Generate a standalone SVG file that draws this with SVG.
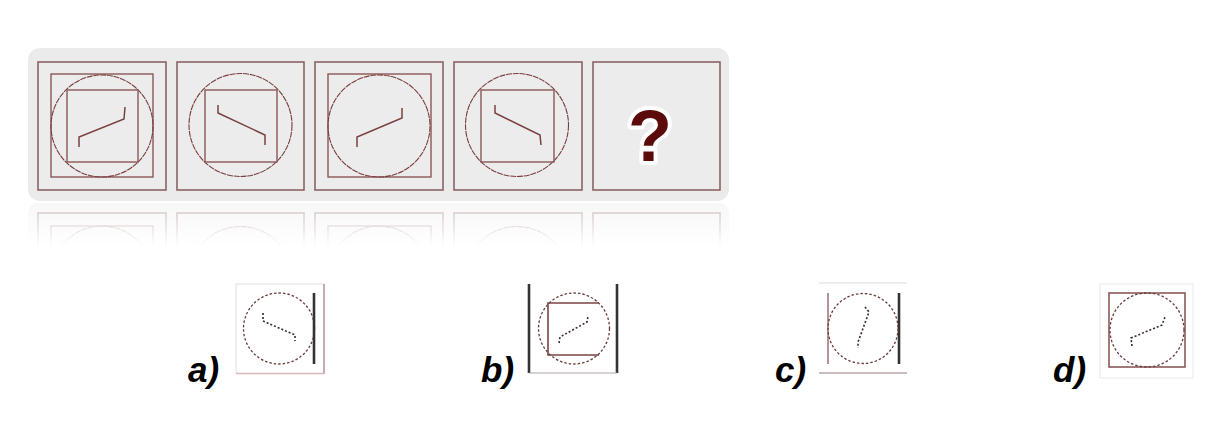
<svg xmlns="http://www.w3.org/2000/svg" width="1208" height="439" viewBox="0 0 1208 439">
<style>
.cell{fill:#ececec;stroke:#8a6464;stroke-width:1.6}
.sq{fill:none;stroke:#8a5858;stroke-width:1.4}
.cir{fill:none;stroke:#7a3c3c;stroke-width:1.1;stroke-dasharray:6 0.8}
.z{fill:none;stroke:#7a4040;stroke-width:1.5}
.dc{fill:none;stroke:#6a3a3a;stroke-width:1.3;stroke-dasharray:2.5 2}
.dz{fill:none;stroke:#3a2a2a;stroke-width:1.6;stroke-dasharray:2 2}
.thick{stroke:#333;stroke-width:2.6}
.lbl{font-family:"Liberation Sans",Arial,sans-serif;font-weight:bold;font-style:italic;font-size:35px;fill:#000}
</style>
<defs>
<linearGradient id="fade" x1="0" y1="0" x2="0" y2="1">
<stop offset="0" stop-color="#fff" stop-opacity="0.4"/>
<stop offset="1" stop-color="#fff" stop-opacity="0"/>
</linearGradient>
<mask id="rm" maskUnits="userSpaceOnUse" x="0" y="200" width="1208" height="60">
<rect x="0" y="203" width="1208" height="44" fill="url(#fade)"/>
</mask>
<g id="row">
<rect x="28" y="48" width="701" height="153" rx="12" fill="#ebebeb"/>
<rect class="cell" x="38" y="62" width="128" height="128"/>
<rect class="cell" x="177" y="62" width="127" height="128"/>
<rect class="cell" x="315" y="62" width="128" height="128"/>
<rect class="cell" x="454" y="62" width="128" height="128"/>
<rect class="cell" x="593" y="62" width="127" height="128"/>
<rect class="sq" x="51" y="74" width="102" height="103"/>
<circle class="cir" cx="102" cy="126" r="51"/>
<rect class="sq" x="328" y="74" width="103" height="103"/>
<circle class="cir" cx="379" cy="126" r="51"/>
<circle class="cir" cx="240.5" cy="125" r="51.5"/>
<circle class="cir" cx="517" cy="125" r="51.5"/>
</g>
</defs>
<rect width="1208" height="439" fill="#fff"/>
<g id="reflection" mask="url(#rm)">
<use href="#row" transform="translate(0,403) scale(1,-1)"/>
</g>
<g id="sequence">
<use href="#row"/>
<g id="cell1">
<rect class="sq" x="67" y="90" width="71" height="72"/>
<polyline class="z" points="79,147 79,137 124,119 125,107"/>
</g>
<g id="cell2">
<rect class="sq" x="205" y="90" width="72" height="72"/>
<polyline class="z" points="218,105 218,113 265,135 265,145"/>
</g>
<g id="cell3">
<polyline class="z" points="357,147 357,137 402,118 402,108"/>
</g>
<g id="cell4">
<rect class="sq" x="481" y="90" width="73" height="72"/>
<polyline class="z" points="495,105 495,113 540,135 541,145"/>
</g>
<g id="cell5">
<text x="650" y="161" text-anchor="middle" font-family="'Liberation Sans',Arial,sans-serif" font-weight="bold" font-size="72" fill="#5c0b0b" stroke="#fff" stroke-width="8" stroke-linejoin="round" paint-order="stroke">?</text>
</g>
</g>
<g id="optA">
<polyline points="236,373 236,284 324,284" fill="none" stroke="#e2dede" stroke-width="1"/>
<line x1="324" y1="284" x2="324" y2="374" stroke="#a88080" stroke-width="1.3"/>
<line x1="236" y1="373.5" x2="324" y2="373.5" stroke="#d8b8b8" stroke-width="1.3"/>
<circle class="dc" cx="279" cy="328.5" r="35.5"/>
<line class="thick" x1="314" y1="293" x2="314" y2="364"/>
<polyline class="dz" points="263,313 263,321 295,335 295,341"/>
<text class="lbl" x="188" y="382">a)</text>
</g>
<g id="optB">
<line class="thick" x1="529" y1="284" x2="529" y2="373"/>
<line class="thick" x1="617" y1="284" x2="617" y2="373"/>
<line x1="529" y1="373" x2="617" y2="373" stroke="#b0a8a8" stroke-width="1.2"/>
<circle class="dc" cx="574" cy="328.5" r="35.5"/>
<polyline points="599,303 548,303 548,355 599,355" fill="none" stroke="#7a4444" stroke-width="1.6"/>
<polyline class="dz" points="559,343 560,337 587,322 588,316"/>
<text class="lbl" x="481" y="382">b)</text>
</g>
<g id="optC">
<line x1="819" y1="283" x2="907" y2="283" stroke="#e0dada" stroke-width="1"/>
<line x1="819" y1="373" x2="907" y2="373" stroke="#b8a8a8" stroke-width="1.3"/>
<line x1="828" y1="293" x2="828" y2="364" stroke="#8a5a5a" stroke-width="1.3"/>
<line class="thick" x1="899" y1="293" x2="899" y2="364"/>
<circle class="dc" cx="863" cy="328.5" r="35"/>
<polyline class="dz" points="865,307 869,312 858,342 858,348"/>
<text class="lbl" x="775" y="382">c)</text>
</g>
<g id="optD">
<rect x="1100" y="284" width="93" height="94" fill="#fff" stroke="#ece8e8" stroke-width="1"/>
<rect x="1109" y="293" width="76" height="74" fill="none" stroke="#8a5a5a" stroke-width="1.6"/>
<circle class="dc" cx="1147" cy="330" r="37"/>
<polyline class="dz" points="1132,346 1131,338 1162,325 1165,317"/>
<text class="lbl" x="1053" y="382">d)</text>
</g>
</svg>
